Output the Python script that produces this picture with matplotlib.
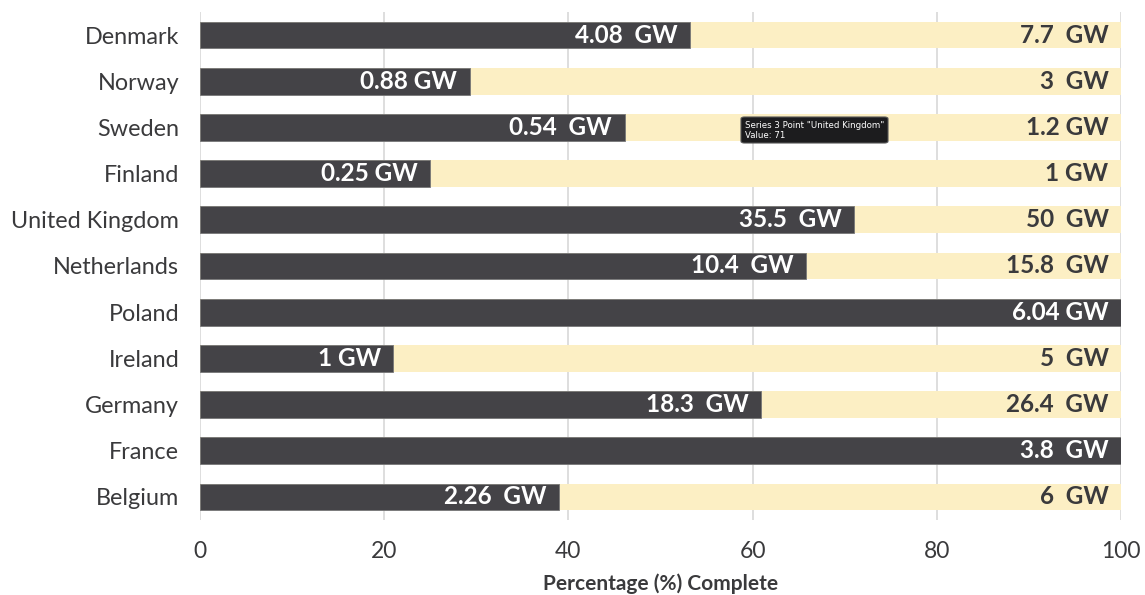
import matplotlib
matplotlib.use("Agg")
import matplotlib.pyplot as plt
from matplotlib.patches import FancyBboxPatch

countries = ["Denmark", "Norway", "Sweden", "Finland", "United Kingdom", "Netherlands",
             "Poland", "Ireland", "Germany", "France", "Belgium"]
pct_complete = [53.2, 29.3, 46.1, 25.0, 71.0, 65.8, 100.0, 21.0, 60.9, 100.0, 39.0]
complete_labels = ["4.08  GW", "0.88 GW", "0.54  GW", "0.25 GW", "35.5  GW", "10.4  GW",
                   "6.04 GW", "1 GW", "18.3  GW", "3.8  GW", "2.26  GW"]
target_labels = ["7.7  GW", "3  GW", "1.2 GW", "1 GW", "50  GW", "15.8  GW",
                 "", "5  GW", "26.4  GW", "", "6  GW"]
xticks = [0, 20, 40, 60, 80, 100]

plt.rcParams['font.family'] = ['Lato', 'DejaVu Sans']
dark = "#444347"
light = "#FCEFC4"
txt = "#3a3a3c"

fig = plt.figure(figsize=(11.45, 5.95), dpi=100)
ax = fig.add_axes([200/1145, 1-520/595, 921/1145, 508/595])
y = list(range(len(countries)))
h = 0.58
ax.barh(y, [100]*len(y), height=h, color=light, zorder=2)
ax.barh(y, pct_complete, height=h, color=dark, edgecolor="#777777", linewidth=0.6, zorder=3)

for i in y:
    ax.annotate(complete_labels[i], (pct_complete[i], i), xytext=(-9, 0), textcoords="offset points",
                ha="right", va="center", color="white", fontsize=17.5, fontweight="bold", zorder=5)
    if target_labels[i] and pct_complete[i] < 90:
        ax.annotate(target_labels[i], (100, i), xytext=(-9, 0), textcoords="offset points",
                    ha="right", va="center", color=txt, fontsize=17.5, fontweight="bold", zorder=5)

ax.set_xlim(0, 100)
ax.set_ylim(len(y)-0.5, -0.5)
ax.set_yticks(y)
ax.set_yticklabels(countries, fontsize=16.8, color=txt)
ax.set_xticks(xticks)
ax.set_xticklabels([str(t) for t in xticks], fontsize=16.5, color=txt)
ax.tick_params(axis="y", length=0, pad=15)
ax.tick_params(axis="x", length=0, pad=15)
for s in ax.spines.values():
    s.set_visible(False)
ax.grid(axis="x", color="#d8d8d8", linewidth=1.2, zorder=0)
ax.set_axisbelow(True)
ax.set_xlabel("Percentage (%) Complete", fontsize=15, fontweight="bold", color=txt, labelpad=8)

# tooltip
tip_x0, tip_y0 = 741/1145, 1-143/595
tip = FancyBboxPatch((tip_x0, tip_y0), 147/1145, 26/595, boxstyle="round,pad=0,rounding_size=0.003",
                     transform=fig.transFigure, facecolor="#1c1c1e", edgecolor="#555555",
                     linewidth=0.8, zorder=10)
fig.patches.append(tip)
fig.text(745/1145, 1-125/595, 'Series 3 Point "United Kingdom"', fontsize=6.2, color="white",
         va="center", ha="left", family="DejaVu Sans", zorder=11)
fig.text(745/1145, 1-136/595, "Value: 71", fontsize=6.2, color="white",
         va="center", ha="left", family="DejaVu Sans", zorder=11)

fig.savefig("out.png", dpi=100)
